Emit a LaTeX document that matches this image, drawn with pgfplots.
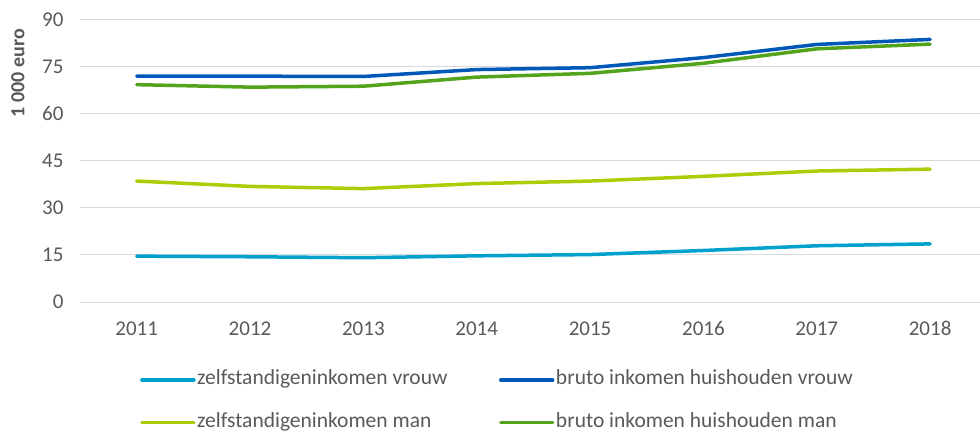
\documentclass[border=0pt]{standalone}
\usepackage{fontspec}
\setmainfont{Carlito}
\usepackage{pgfplots}
\pgfplotsset{compat=1.18}
\definecolor{zvrouw}{HTML}{00A1CD}
\definecolor{bvrouw}{HTML}{0058B8}
\definecolor{zman}{HTML}{AFCB05}
\definecolor{bman}{HTML}{53A31D}
\definecolor{txtgray}{HTML}{595959}
\definecolor{gridgray}{HTML}{D9D9D9}

\begin{document}
\begin{tikzpicture}
\useasboundingbox (0,0) rectangle (980pt,432pt);
\begin{axis}[
    at={(80pt,130pt)}, anchor=south west,
    scale only axis,
    width=900pt, height=282.7pt,
    xmin=-0.5, xmax=7.44,
    ymin=0, ymax=90,
    xtick={0,...,7},
    xticklabels={2011,2012,2013,2014,2015,2016,2017,2018},
    ytick={0,15,30,45,60,75,90},
    ymajorgrids,
    grid style={gridgray, line width=1pt},
    axis line style={draw=none},
    major tick length=0pt,
    /pgf/number format/assume math mode=true,
    tick label style={font=\fontsize{21}{25}\selectfont, text=txtgray},
    yticklabel style={xshift=-13pt},
    xticklabel style={yshift=-16pt},
    every axis y label/.style={at={(rel axis cs:0,0.81)}, xshift=-62pt, rotate=90, anchor=center},
    ylabel={\bfseries 1 000 euro},
    ylabel style={font=\fontsize{20}{24}\selectfont, text=txtgray},
    legend columns=2,
    legend image code/.code={\draw[#1, line cap=round] (0pt,0pt) -- (52pt,0pt);},
    legend style={at={(0,0)}, anchor=north west, xshift=60pt, yshift=-67pt,
        draw=none, fill=none, inner sep=0pt,
        font=\fontsize{21.5}{25}\selectfont, text=txtgray,
        nodes={inner xsep=1.5pt, inner ysep=1.5pt, text height=14pt, text depth=5pt, anchor=west},
        row sep=20.5pt, column sep=0pt,
        /tikz/every even column/.append style={column sep=50pt}},
    every axis plot/.append style={line width=3.5pt, line join=round, line cap=round},
]
\addplot[zvrouw] coordinates {
    (0,14.6) (1,14.4) (2,14.1) (3,14.7) (4,15.1) (5,16.4) (6,17.9) (7,18.5)
};
\addlegendentry{zelfstandigeninkomen vrouw}
\addplot[bvrouw] coordinates {
    (0,71.9) (1,71.9) (2,71.8) (3,74.0) (4,74.6) (5,77.8) (6,82.0) (7,83.6)
};
\addlegendentry{bruto inkomen huishouden vrouw}
\addplot[zman] coordinates {
    (0,38.5) (1,36.8) (2,36.1) (3,37.7) (4,38.5) (5,40.0) (6,41.7) (7,42.3)
};
\addlegendentry{zelfstandigeninkomen man}
\addplot[bman] coordinates {
    (0,69.2) (1,68.4) (2,68.7) (3,71.6) (4,72.8) (5,76.0) (6,80.6) (7,82.1)
};
\addlegendentry{bruto inkomen huishouden man}
\end{axis}
\end{tikzpicture}
\end{document}
